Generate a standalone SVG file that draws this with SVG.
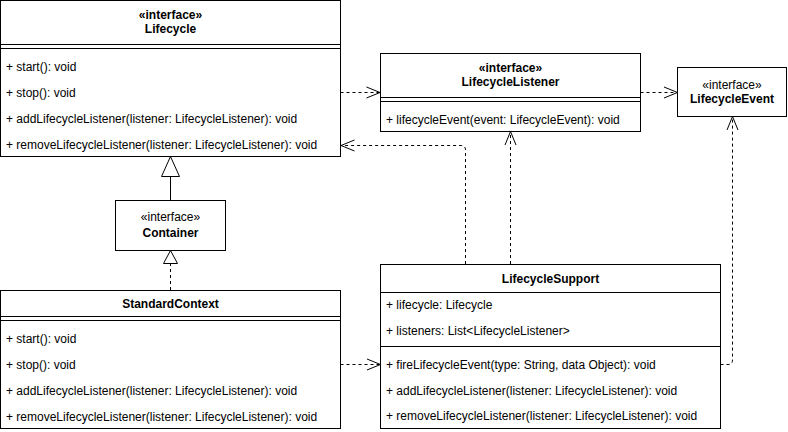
<svg xmlns="http://www.w3.org/2000/svg" width="788" height="432" viewBox="0 0 788 432">
<defs>
<style>
.box{fill:#fff;stroke:#000;stroke-width:1}
.ln{stroke:#000;stroke-width:1;fill:none}
.t{font-family:"Liberation Sans",Arial,Helvetica,sans-serif;font-size:12px;fill:#000}
.b{font-weight:bold}
.c{text-anchor:middle}
.dash{stroke:#000;stroke-width:1;fill:none;stroke-dasharray:3 3}
.solid{stroke:#000;stroke-width:1;fill:none}
</style>
<marker id="open" markerUnits="userSpaceOnUse" markerWidth="16" markerHeight="14" refX="14" refY="6" orient="auto" overflow="visible">
<path d="M0.5,0.5 L14,6 L0.5,11.5" fill="none" stroke="#000" stroke-width="1" stroke-dasharray="none"/>
</marker>
<marker id="triBig" markerUnits="userSpaceOnUse" markerWidth="21" markerHeight="19" refX="20" refY="9" orient="auto" overflow="visible">
<path d="M0,0 L20,9 L0,18 Z" fill="#fff" stroke="#000" stroke-width="1" stroke-dasharray="none"/>
</marker>
<marker id="triSmall" markerUnits="userSpaceOnUse" markerWidth="14" markerHeight="15" refX="13" refY="7" orient="auto" overflow="visible">
<path d="M0,0 L13,7 L0,14 Z" fill="#fff" stroke="#000" stroke-width="1" stroke-dasharray="none"/>
</marker>
</defs>
<rect x="0" y="0" width="788" height="432" fill="#fff"/>

<g id="connectors">
<path class="dash" d="M340.5,92.5 H380" marker-end="url(#open)"/>
<path class="dash" d="M640.5,92.5 H677.5" marker-end="url(#open)"/>
<path class="dash" d="M465.5,264 V150 Q465.5,145.5 461,145.5 H341" marker-end="url(#open)"/>
<path class="dash" d="M510.5,264 V131.5" marker-end="url(#open)"/>
<path class="dash" d="M720.5,364.5 H728 Q732.5,364.5 732.5,360 V116.5" marker-end="url(#open)"/>
<path class="dash" d="M340.5,364.5 H380.5" marker-end="url(#open)"/>
<path class="solid" d="M170.5,200 V156.5" marker-end="url(#triBig)"/>
<path class="dash" d="M170.5,290 V250.5" marker-end="url(#triSmall)"/>
</g>

<g id="Lifecycle">
<rect class="box" x="0.5" y="0.5" width="340" height="156"/>
<line class="ln" x1="0.5" y1="44.5" x2="340.5" y2="44.5"/>
<line class="ln" x1="0.5" y1="48.5" x2="340.5" y2="48.5"/>
<text class="t b c" x="170.5" y="19">«interface»</text>
<text class="t b c" x="170.5" y="33">Lifecycle</text>
<text class="t" x="6" y="71">+ start(): void</text>
<text class="t" x="6" y="97">+ stop(): void</text>
<text class="t" x="6" y="123">+ addLifecycleListener(listener: LifecycleListener): void</text>
<text class="t" x="6" y="149">+ removeLifecycleListener(listener: LifecycleListener): void</text>
</g>

<g id="LifecycleListener">
<rect class="box" x="380.5" y="53.5" width="260" height="78"/>
<line class="ln" x1="380.5" y1="97.5" x2="640.5" y2="97.5"/>
<line class="ln" x1="380.5" y1="101.5" x2="640.5" y2="101.5"/>
<text class="t b c" x="510.5" y="72">«interface»</text>
<text class="t b c" x="510.5" y="86">LifecycleListener</text>
<text class="t" x="386" y="124">+ lifecycleEvent(event: LifecycleEvent): void</text>
</g>

<g id="LifecycleEvent">
<rect class="box" x="677.5" y="67.5" width="109" height="49"/>
<text class="t c" x="732" y="89">«interface»</text>
<text class="t b c" x="732" y="103">LifecycleEvent</text>
</g>

<g id="Container">
<rect class="box" x="115.5" y="200.5" width="110" height="50"/>
<text class="t c" x="170.5" y="221">«interface»</text>
<text class="t b c" x="170.5" y="237">Container</text>
</g>

<g id="StandardContext">
<rect class="box" x="0.5" y="290.5" width="340" height="138"/>
<line class="ln" x1="0.5" y1="316.5" x2="340.5" y2="316.5"/>
<line class="ln" x1="0.5" y1="320.5" x2="340.5" y2="320.5"/>
<text class="t b c" x="170.5" y="307.5">StandardContext</text>
<text class="t" x="6" y="343">+ start(): void</text>
<text class="t" x="6" y="369">+ stop(): void</text>
<text class="t" x="6" y="395">+ addLifecycleListener(listener: LifecycleListener): void</text>
<text class="t" x="6" y="421">+ removeLifecycleListener(listener: LifecycleListener): void</text>
</g>

<g id="LifecycleSupport">
<rect class="box" x="380.5" y="264.5" width="340" height="164"/>
<line class="ln" x1="380.5" y1="292.5" x2="720.5" y2="292.5"/>
<line class="ln" x1="380.5" y1="346.5" x2="720.5" y2="346.5"/>
<text class="t b c" x="550.5" y="282.5">LifecycleSupport</text>
<text class="t" x="386" y="308.5">+ lifecycle: Lifecycle</text>
<text class="t" x="386" y="334.5">+ listeners: List&lt;LifecycleListener&gt;</text>
<text class="t" x="386" y="368.5">+ fireLifecycleEvent(type: String, data Object): void</text>
<text class="t" x="386" y="394.5">+ addLifecycleListener(listener: LifecycleListener): void</text>
<text class="t" x="386" y="420">+ removeLifecycleListener(listener: LifecycleListener): void</text>
</g>
</svg>
